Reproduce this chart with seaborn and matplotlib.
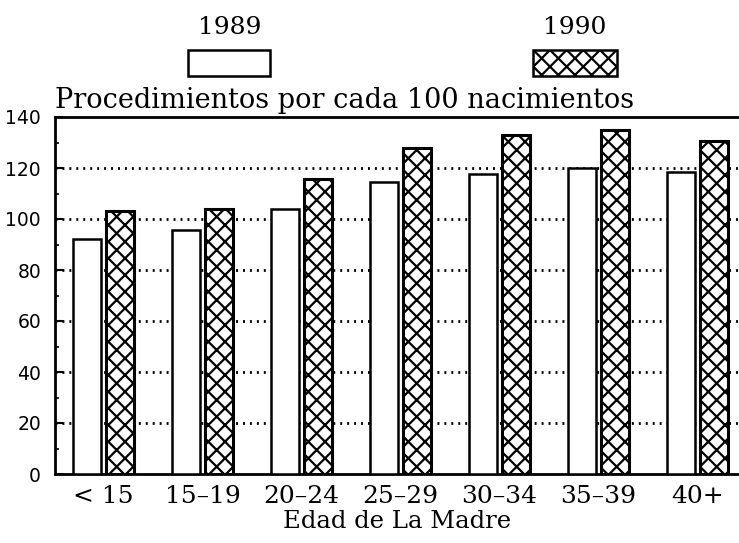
import matplotlib
matplotlib.use("Agg")
import matplotlib.pyplot as plt
from matplotlib.patches import Rectangle
from matplotlib.ticker import MultipleLocator
import seaborn as sns
import pandas as pd

# ---- data ----
edades = ["< 15", "15–19", "20–24", "25–29", "30–34", "35–39", "40+"]
valores_1989 = [92, 95.5, 104, 114.5, 117.5, 120, 118.5]
valores_1990 = [103, 104, 115.5, 128, 133, 135, 130.5]
anios = ["1989", "1990"]

df = pd.DataFrame({
    "edad": edades * 2,
    "anio": [anios[0]] * len(edades) + [anios[1]] * len(edades),
    "valor": valores_1989 + valores_1990,
})

sns.set_style("ticks")
plt.rcParams["font.family"] = ["DejaVu Serif"]
plt.rcParams["hatch.linewidth"] = 1.6
plt.rcParams["hatch.color"] = "black"
for key in ["text.color", "axes.labelcolor", "xtick.color", "ytick.color",
            "axes.edgecolor"]:
    plt.rcParams[key] = "black"

fig = plt.figure(figsize=(7.39, 5.43), dpi=100)
ax = fig.add_axes([55 / 739, 69 / 543, 684 / 739, 357 / 543])

sns.barplot(data=df, x="edad", y="valor", hue="anio", order=edades,
            hue_order=anios, palette=["white", "white"], saturation=1,
            edgecolor="black", linewidth=1.8, width=0.66, gap=0.14,
            legend=False, ax=ax, zorder=3)
for bar in ax.containers[1]:
    bar.set_hatch("xx")
    bar.set_linewidth(2.2)

ax.set_xlim(-0.49, 6.42)
ax.set_ylim(0, 140)
ax.yaxis.set_major_locator(MultipleLocator(20))
ax.yaxis.set_minor_locator(MultipleLocator(10))
ax.tick_params(axis="y", which="major", direction="in", length=6, width=1.5,
               pad=10, labelsize=13.5)
ax.tick_params(axis="y", which="minor", direction="in", length=3, width=1.2)
for lab in ax.get_yticklabels():
    lab.set_fontfamily("DejaVu Sans")
ax.tick_params(axis="x", length=0, pad=8, labelsize=18)

# dotted gridlines behind bars
for yv in range(20, 140, 20):
    ax.axhline(yv, color="black", lw=2, linestyle=(0, (0.7, 1.8)), zorder=1)

for side in ["left", "bottom", "top"]:
    ax.spines[side].set_linewidth(2)
ax.spines["right"].set_visible(False)

ax.set_xlabel("Edad de La Madre", fontsize=17.5, labelpad=1)
ax.set_ylabel("")
ax.set_title("Procedimientos por cada 100 nacimientos", loc="left",
             fontsize=19.5, pad=6.5)

# legend (labels above keys)
fig.text(229.5 / 739, (543 - 27.5) / 543, anios[0], ha="center", va="center",
         fontsize=18)
fig.text(575 / 739, (543 - 27.5) / 543, anios[1], ha="center", va="center",
         fontsize=18)
fig.patches.append(Rectangle((188 / 739, (543 - 76) / 543), 82 / 739, 26 / 543,
                             transform=fig.transFigure, facecolor="white",
                             edgecolor="black", lw=1.8))
fig.patches.append(Rectangle((533 / 739, (543 - 76) / 543), 84 / 739, 26 / 543,
                             transform=fig.transFigure, facecolor="white",
                             edgecolor="black", lw=1.8, hatch="xx"))

fig.savefig("out.png", dpi=100, facecolor="white")
